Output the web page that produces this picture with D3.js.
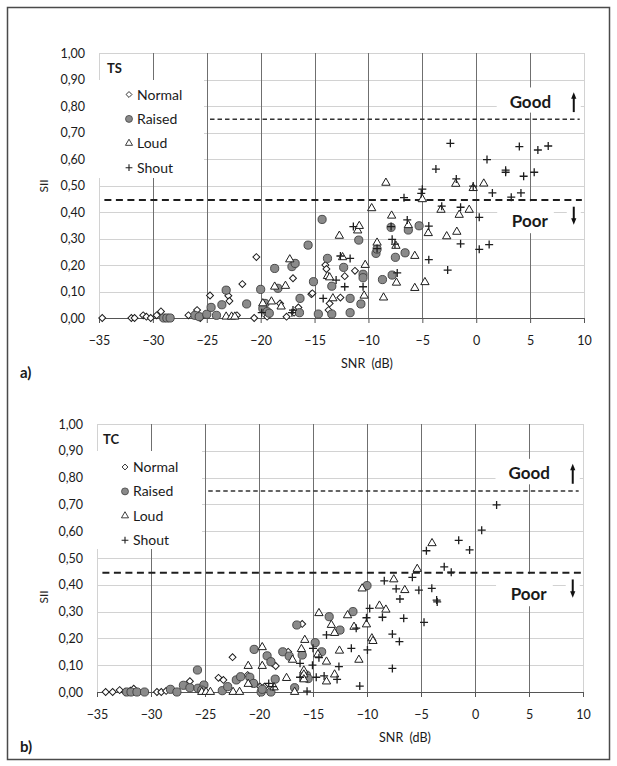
<!DOCTYPE html>
<html>
<head>
<meta charset="utf-8">
<script src="https://cdn.jsdelivr.net/npm/d3@7/dist/d3.min.js"></script>
<style>
  body { margin: 0; background: #fff; }
  svg text { font-family: Lato, "Open Sans", sans-serif; fill: #1a1a1a; }
</style>
</head>
<body>
<div id="wrapper"></div>
<script>
// tick values
const snrTicks = [-35, -30, -25, -20, -15, -10, -5, 0, 5, 10];
const siiTicks = [0, 0.1, 0.2, 0.3, 0.4, 0.5, 0.6, 0.7, 0.8, 0.9, 1.0];
const seriesNames = ["Normal", "Raised", "Loud", "Shout"];

// SII thresholds
const goodLevel = 0.75;
const poorLevel = 0.445;

// a) TS  -- [SNR dB, SII]
const tsNormal = [
  [-34.7, 0], [-32.0, 0], [-31.7, 0], [-30.9, 0.01], [-30.6, 0.005], [-30.2, 0],
  [-29.65, 0.01], [-29.25, 0.025], [-26.7, 0.01], [-25.9, 0.03], [-25.6, 0.0],
  [-24.7, 0.085], [-23.0, 0.084], [-22.9, 0.064], [-22.2, 0.01], [-21.7, 0.128],
  [-20.4, 0.23], [-20.6, 0.0], [-19.4, 0.005], [-18.2, 0.055], [-17.6, 0.005],
  [-17.0, 0.15], [-16.9, 0.02], [-16.5, 0.04], [-15.3, 0.09], [-15.2, 0.093],
  [-14.0, 0.2], [-13.9, 0.185], [-13.6, 0.055], [-13.7, 0.03], [-12.6, 0.077],
  [-12.2, 0.158], [-11.25, 0.178]
];
const tsRaised = [
  [-29.0, 0], [-28.7, 0], [-28.4, 0], [-26.1, 0.01], [-25.7, 0.005], [-25.0, 0.014],
  [-24.6, 0.04], [-24.1, 0.01], [-23.6, 0.05], [-23.2, 0.105], [-21.3, 0.053],
  [-20.0, 0.108], [-19.6, 0.055], [-19.8, 0.036], [-19.4, 0.024], [-19.2, 0.018],
  [-18.7, 0.187], [-18.4, 0.112], [-17.1, 0.194], [-16.8, 0.206], [-16.35, 0.074],
  [-16.4, 0.02], [-15.6, 0.275], [-15.1, 0.137], [-14.3, 0.372], [-14.65, 0.015],
  [-13.8, 0.225], [-13.4, 0.015], [-13.4, 0.12], [-12.3, 0.191], [-11.7, 0.074],
  [-11.7, 0.02], [-10.9, 0.294], [-10.7, 0.053], [-10.5, 0.165], [-10.5, 0.152],
  [-9.3, 0.244], [-9.2, 0.26], [-8.7, 0.145], [-7.9, 0.342], [-7.5, 0.229],
  [-7.8, 0.162], [-6.6, 0.246], [-6.3, 0.332], [-5.3, 0.348]
];
const tsLoud = [
  [-23.2, 0.005], [-22.7, 0.005], [-22.4, 0.005], [-19.8, 0.055], [-19.0, 0.062],
  [-18.1, 0.043], [-18.7, 0.118], [-17.7, 0.121], [-17.3, 0.221], [-13.8, 0.158],
  [-13.6, 0.153], [-13.3, 0.074], [-12.7, 0.31], [-12.4, 0.229], [-11.0, 0.33],
  [-10.85, 0.347], [-10.4, 0.084], [-10.3, 0.2], [-9.7, 0.414], [-9.2, 0.284],
  [-8.6, 0.077], [-8.38, 0.51], [-7.85, 0.386], [-7.45, 0.272], [-7.4, 0.133],
  [-6.3, 0.35], [-5.7, 0.234], [-5.7, 0.113], [-5.0, 0.448], [-4.76, 0.135],
  [-4.45, 0.32], [-3.27, 0.408], [-2.74, 0.308], [-1.9, 0.506], [-1.8, 0.325],
  [-1.58, 0.389], [-0.65, 0.408], [-0.28, 0.49], [0.7, 0.507]
];
const tsShout = [
  [-19.9, 0.02], [-17.1, 0.02], [-17.0, 0.03], [-14.2, 0.074], [-13.0, 0.143],
  [-12.6, 0.234], [-12.2, 0.118], [-11.7, 0.225], [-11.4, 0.345], [-10.5, 0.118],
  [-9.2, 0.262], [-7.9, 0.345], [-7.8, 0.297], [-7.54, 0.279], [-7.33, 0.17],
  [-6.7, 0.454], [-6.4, 0.37], [-5.1, 0.47], [-5.0, 0.486], [-4.4, 0.347],
  [-4.4, 0.22], [-3.74, 0.562], [-3.2, 0.422], [-2.65, 0.181], [-2.4, 0.659],
  [-1.85, 0.525], [-1.45, 0.418], [-1.45, 0.28], [-0.28, 0.498], [0.28, 0.38],
  [0.28, 0.259], [1.0, 0.598], [1.2, 0.277], [1.5, 0.472], [2.73, 0.558],
  [2.73, 0.55], [3.25, 0.456], [4.0, 0.647], [4.15, 0.472], [4.4, 0.535],
  [5.38, 0.55], [5.72, 0.634], [6.68, 0.649]
];

// b) TC
const tcNormal = [
  [-34.2, 0], [-33.55, 0], [-32.9, 0.007], [-32.4, 0], [-31.9, 0.005], [-31.6, 0.012],
  [-29.45, 0], [-29.05, 0], [-28.6, 0.004], [-26.4, 0.04], [-23.75, 0.053],
  [-23.3, 0.045], [-22.45, 0.13], [-21.05, 0.063], [-20.8, 0.047], [-20.4, 0.032],
  [-19.9, 0.02], [-19.5, 0.02], [-18.75, 0.107], [-18.45, 0.097], [-17.3, 0.15],
  [-16.0, 0.254]
];
const tcRaised = [
  [-32.25, 0], [-31.85, 0], [-31.3, 0], [-30.6, 0], [-28.2, 0.01], [-27.6, 0],
  [-27.0, 0.025], [-26.4, 0.016], [-25.7, 0.082], [-25.65, 0.014], [-25.1, 0.026],
  [-25.3, 0.007], [-23.4, 0.005], [-22.9, 0.02], [-22.1, 0.045], [-21.7, 0.057],
  [-20.85, 0.055], [-20.5, 0.032], [-20.45, 0.159], [-19.8, 0.0], [-19.7, 0.01],
  [-19.25, 0.135], [-18.9, 0.113], [-18.9, 0.0], [-18.5, 0.048], [-17.8, 0.15],
  [-17.2, 0.134], [-16.7, 0.016], [-16.5, 0.25], [-16.0, 0.138], [-15.6, 0.063],
  [-15.45, 0.05], [-14.8, 0.184], [-14.2, 0.15], [-13.5, 0.281], [-12.5, 0.231],
  [-11.3, 0.3], [-10.0, 0.397]
];
const tcLoud = [
  [-25.3, 0], [-24.9, 0], [-24.5, 0], [-22.4, 0], [-21.8, 0], [-21.0, 0.097],
  [-21.0, 0.03], [-19.7, 0.097], [-19.7, 0.167], [-18.6, 0.017], [-17.45, 0.052],
  [-16.9, 0.12], [-16.7, 0], [-16.07, 0.16], [-15.85, 0.08], [-15.85, 0.065],
  [-15.85, 0.047], [-15.76, 0.194], [-14.45, 0.294], [-14.55, 0.14], [-13.75, 0.113],
  [-13.75, 0.039], [-13.3, 0.25], [-13.0, 0.22], [-13.0, 0.065], [-12.55, 0.154],
  [-11.8, 0.286], [-11.2, 0.243], [-10.75, 0.12], [-10.45, 0.386], [-10.05, 0.252],
  [-9.55, 0.2], [-9.45, 0.19], [-8.85, 0.322], [-8.25, 0.307], [-7.52, 0.42],
  [-6.5, 0.38], [-5.35, 0.459], [-3.98, 0.555]
];
const tcShout = [
  [-19.1, 0.032], [-18.7, 0.02], [-16.2, 0.107], [-16.2, 0.055], [-15.55, 0.003],
  [-15.05, 0.1], [-15.0, 0.163], [-14.45, 0.128], [-14.7, 0.055], [-13.97, 0.06],
  [-13.75, 0.213], [-12.77, 0.047], [-12.6, 0.095], [-11.45, 0.163], [-11.0, 0.238],
  [-10.67, 0.022], [-10.05, 0.277], [-9.96, 0.157], [-9.75, 0.312], [-8.57, 0.279],
  [-8.4, 0.415], [-7.65, 0.216], [-7.65, 0.088], [-7.3, 0.385], [-7.0, 0.188],
  [-6.95, 0.347], [-6.6, 0.275], [-5.8, 0.428], [-5.2, 0.38], [-4.72, 0.26],
  [-4.5, 0.527], [-4.0, 0.387], [-3.55, 0.343], [-3.5, 0.336], [-2.85, 0.467],
  [-2.2, 0.447], [-1.51, 0.566], [-0.5, 0.53], [0.62, 0.604], [2.0, 0.698]
];

const fmt = d3.formatLocale({ decimal: ",", thousands: ".", grouping: [3], currency: ["", ""] }).format(".2f");

const svg = d3.select("#wrapper")
  .append("svg")
    .attr("width", 617)
    .attr("height", 766);

svg.append("rect")
  .attr("x", 7.5).attr("y", 7.5)
  .attr("width", 602).attr("height", 752)
  .attr("fill", "none")
  .attr("stroke", "#4a4a4a")
  .attr("stroke-width", 1.5);

const crisp = v => Math.round(v) + 0.5;

function drawMarker(sel, kind) {
  if (kind === "Normal") {
    sel.append("path")
      .attr("d", d3.symbol().type(d3.symbolSquare).size(24)())
      .attr("transform", "rotate(45)")
      .attr("fill", "#fff").attr("stroke", "#1e1e1e").attr("stroke-width", 1);
  } else if (kind === "Raised") {
    sel.append("circle")
      .attr("r", 4.1)
      .attr("fill", "#8a8a8a").attr("stroke", "#3e3e3e").attr("stroke-width", 0.9);
  } else if (kind === "Loud") {
    sel.append("path")
      .attr("d", d3.symbol().type(d3.symbolTriangle).size(30)())
      .attr("fill", "#fff").attr("stroke", "#1e1e1e").attr("stroke-width", 1);
  } else {
    sel.append("path")
      .attr("d", "M-4,0H4M0,-4V4")
      .attr("fill", "none").attr("stroke", "#1e1e1e").attr("stroke-width", 1.3);
  }
}

function drawPanel(p, series) {
  const xScale = d3.scaleLinear().domain([-35, 10]).range([p.left, p.right]);
  const yScale = d3.scaleLinear().domain([0, 1]).range([p.bottom, p.top]);
  const g = svg.append("g");

  // light horizontal grid
  g.append("g").selectAll("line")
    .data(siiTicks.slice(1))
    .join("line")
      .attr("x1", p.left).attr("x2", p.right)
      .attr("y1", d => crisp(yScale(d))).attr("y2", d => crisp(yScale(d)))
      .attr("stroke", "#d2d2d2");

  // left / right plot border
  g.append("g").selectAll("line")
    .data([-35, 10])
    .join("line")
      .attr("x1", d => crisp(xScale(d))).attr("x2", d => crisp(xScale(d)))
      .attr("y1", p.top).attr("y2", p.bottom)
      .attr("stroke", "#d2d2d2");

  // dark vertical grid
  g.append("g").selectAll("line")
    .data(snrTicks.slice(1, -1))
    .join("line")
      .attr("x1", d => crisp(xScale(d))).attr("x2", d => crisp(xScale(d)))
      .attr("y1", p.top).attr("y2", p.bottom)
      .attr("stroke", "#6f6f6f");

  // white label boxes covering the grid
  g.append("rect")
    .attr("x", p.left).attr("y", p.top + 27)
    .attr("width", 105).attr("height", 98)
    .attr("fill", "#fff");
  g.append("rect")
    .attr("x", xScale(1.9)).attr("y", yScale(0.87))
    .attr("width", xScale(9.7) - xScale(1.9)).attr("height", yScale(0.775) - yScale(0.87))
    .attr("fill", "#fff");
  g.append("rect")
    .attr("x", xScale(1.95)).attr("y", yScale(0.44))
    .attr("width", xScale(7.2) - xScale(1.95)).attr("height", yScale(0.32) - yScale(0.44))
    .attr("fill", "#fff");
  g.append("rect")
    .attr("x", xScale(8.4)).attr("y", yScale(0.44))
    .attr("width", xScale(9.7) - xScale(8.4)).attr("height", yScale(0.32) - yScale(0.44))
    .attr("fill", "#fff");

  // threshold lines
  g.append("line")
    .attr("x1", xScale(-24.7)).attr("x2", xScale(9.6))
    .attr("y1", yScale(goodLevel)).attr("y2", yScale(goodLevel))
    .attr("stroke", "#333").attr("stroke-width", 1.6)
    .attr("stroke-dasharray", "4.5,3");
  g.append("line")
    .attr("x1", xScale(-34.5)).attr("x2", xScale(9.8))
    .attr("y1", yScale(poorLevel)).attr("y2", yScale(poorLevel))
    .attr("stroke", "#1e1e1e").attr("stroke-width", 2)
    .attr("stroke-dasharray", "7,4.5");

  // x axis
  const xAxis = g.append("g")
    .attr("transform", `translate(0, ${crisp(p.bottom) - 0.5})`)
    .call(d3.axisBottom(xScale).tickValues(snrTicks).tickSize(5).tickSizeOuter(0).tickPadding(13));
  xAxis.select(".domain").attr("stroke", "#555");
  xAxis.selectAll(".tick line").attr("stroke", "#555");
  xAxis.selectAll(".tick text")
    .attr("font-family", "Lato, sans-serif").attr("font-size", 12.5).attr("fill", "#1a1a1a");

  // y axis
  const yAxis = g.append("g")
    .attr("transform", `translate(${p.left}, 0)`)
    .call(d3.axisLeft(yScale).tickValues(siiTicks).tickSize(0).tickPadding(14).tickFormat(fmt));
  yAxis.select(".domain").remove();
  yAxis.selectAll(".tick text")
    .attr("font-family", "Lato, sans-serif").attr("font-size", 12.5).attr("fill", "#1a1a1a");

  // points, in series order
  seriesNames.forEach((name, i) => {
    g.append("g").selectAll("g")
      .data(series[i])
      .join("g")
        .attr("transform", d => `translate(${xScale(d[0])}, ${yScale(d[1])})`)
        .each(function() { drawMarker(d3.select(this), name); });
  });

  // legend
  const legend = g.append("g");
  seriesNames.forEach((name, i) => {
    const row = legend.append("g")
      .attr("transform", `translate(${p.legendX}, ${p.top + p.legendTop + i * 24.4})`);
    row.append("g").attr("transform", "scale(0.85)").call(s => drawMarker(s, name));
    row.append("text")
      .attr("x", 8).attr("y", 5)
      .attr("font-size", 14)
      .text(name);
  });

  g.append("text")
    .attr("x", p.titleX).attr("y", p.top + 19.5)
    .attr("font-size", 13).attr("font-weight", "bold")
    .text(p.title);

  // Good / Poor annotations
  g.append("text")
    .attr("x", xScale(3.1)).attr("y", yScale(0.793))
    .attr("font-size", 17).attr("font-weight", "bold")
    .text("Good");
  g.append("text")
    .attr("x", xScale(3.3)).attr("y", yScale(0.344))
    .attr("font-size", 17).attr("font-weight", "bold")
    .text("Poor");

  const ax = xScale(9.05);
  const arrow = (from, to) => {
    const y1 = yScale(from), y2 = yScale(to);
    const dir = y2 < y1 ? 1 : -1;
    g.append("line")
      .attr("x1", ax).attr("x2", ax)
      .attr("y1", y1).attr("y2", y2 + dir * 5)
      .attr("stroke", "#111").attr("stroke-width", 2);
    g.append("path")
      .attr("d", `M${ax - 2.6},${y2 + dir * 6.5}L${ax},${y2}L${ax + 2.6},${y2 + dir * 6.5}Z`)
      .attr("fill", "#111");
  };
  arrow(0.777, 0.852);
  arrow(0.42, 0.352);

  // axis titles
  g.append("text")
    .attr("transform", `translate(${p.siiX}, ${p.siiY}) rotate(-90)`)
    .attr("text-anchor", "middle")
    .attr("font-size", 12)
    .text("SII");
  g.append("text")
    .attr("x", p.snrX).attr("y", p.bottom + 50)
    .attr("text-anchor", "middle")
    .attr("font-size", 12.5)
    .attr("xml:space", "preserve")
    .text("SNR  (dB)");
  g.append("text")
    .attr("x", 20).attr("y", p.bottom + 60)
    .attr("font-size", 15).attr("font-weight", "bold")
    .text(p.tag);
}

drawPanel(
  { left: 99, right: 584, top: 53, bottom: 318, title: "TS", titleX: 107, tag: "a)",
    legendX: 129, legendTop: 41.5, siiX: 48, siiY: 186, snrX: 367 },
  [tsNormal, tsRaised, tsLoud, tsShout]
);
drawPanel(
  { left: 97, right: 583, top: 424, bottom: 692, title: "TC", titleX: 103, tag: "b)",
    legendX: 125, legendTop: 43, siiX: 48, siiY: 597, snrX: 405 },
  [tcNormal, tcRaised, tcLoud, tcShout]
);
</script>
</body>
</html>
